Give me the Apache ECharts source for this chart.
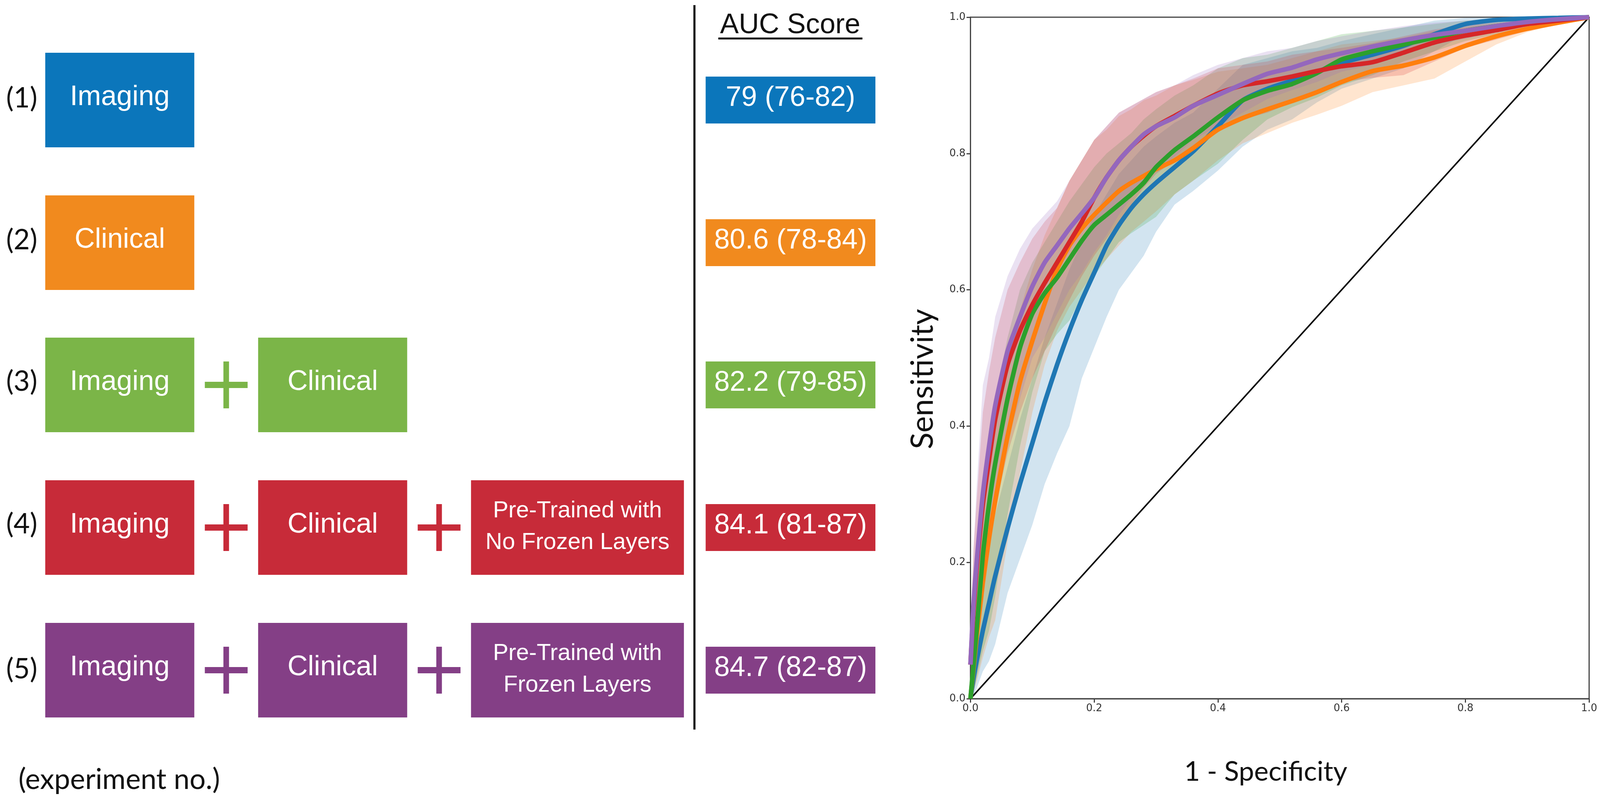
<!DOCTYPE html>
<html>
<head>
<meta charset="utf-8">
<title>AUC scores and ROC curves</title>
<style>
  html, body { margin: 0; padding: 0; background: #fff; }
  #chart { width: 100vw; height: 100vh; }
</style>
<script src="https://cdn.jsdelivr.net/npm/echarts@6/dist/echarts.min.js"></script>
</head>
<body>
<div id="chart"></div>
<script>
// 实验方案（左侧示意图）
const experimentNos = ['(1)', '(2)', '(3)', '(4)', '(5)']
const experimentBoxes = [
  ['Imaging'],
  ['Clinical'],
  ['Imaging', 'Clinical'],
  ['Imaging', 'Clinical', 'Pre-Trained with\nNo Frozen Layers'],
  ['Imaging', 'Clinical', 'Pre-Trained with\nFrozen Layers']
]
const aucLabels = ['79 (76-82)', '80.6 (78-84)', '82.2 (79-85)', '84.1 (81-87)', '84.7 (82-87)']

// ROC 曲线，五条线共用同一组横坐标
const fpr = [0, .005, .01, .02, .03, .04, .06, .08, .10, .12, .14, .16, .18, .20, .22, .24, .26, .28, .30, .33, .36, .40, .44, .48, .52, .56, .60, .65, .70, .75, .80, .85, .90, .95, 1]

const imagingMean = [0, .03, .055, .10, .14, .18, .25, .315, .375, .435, .49, .54, .585, .625, .665, .695, .72, .74, .757, .78, .803, .84, .878, .895, .907, .92, .933, .945, .958, .975, .99, .996, .998, .999, 1]
const imagingLow = [0, .005, .015, .04, .055, .08, .155, .205, .255, .315, .36, .40, .47, .515, .56, .60, .625, .65, .685, .725, .745, .775, .81, .835, .85, .875, .895, .91, .925, .95, .975, .985, .995, .998, 1]
const imagingHigh = [0, .06, .10, .17, .22, .27, .34, .41, .47, .53, .58, .63, .67, .71, .74, .77, .79, .81, .825, .845, .86, .895, .93, .94, .95, .955, .965, .975, .985, .995, .999, 1, 1, 1, 1]

const clinicalMean = [0, .045, .09, .17, .235, .29, .385, .465, .525, .58, .63, .665, .69, .71, .728, .745, .757, .767, .777, .79, .808, .835, .852, .865, .877, .89, .905, .921, .929, .941, .958, .972, .983, .992, 1]
const clinicalLow = [0, .01, .025, .06, .09, .115, .23, .33, .42, .49, .54, .575, .60, .625, .645, .665, .685, .70, .715, .74, .76, .79, .815, .83, .845, .857, .87, .89, .90, .91, .935, .96, .978, .99, 1]
const clinicalHigh = [0, .07, .15, .27, .33, .40, .49, .57, .63, .68, .72, .76, .79, .82, .835, .855, .865, .878, .885, .90, .908, .92, .925, .93, .94, .95, .96, .965, .97, .98, .985, .99, .995, .998, 1]

const comboMean = [0, .05, .10, .21, .285, .345, .44, .515, .565, .595, .618, .645, .672, .695, .71, .725, .74, .757, .78, .805, .825, .853, .878, .892, .902, .918, .938, .95, .96, .97, .98, .987, .992, .996, 1]
const comboLow = [0, .01, .03, .07, .10, .15, .27, .37, .45, .51, .535, .555, .59, .62, .645, .67, .683, .695, .707, .74, .76, .785, .82, .85, .868, .882, .90, .915, .935, .95, .965, .975, .985, .993, 1]
const comboHigh = [0, .10, .18, .30, .38, .44, .53, .60, .64, .67, .70, .73, .755, .78, .80, .815, .83, .85, .865, .885, .90, .925, .94, .945, .955, .965, .975, .98, .985, .99, .995, .997, .998, .999, 1]

const noFrozenMean = [.05, .13, .19, .285, .35, .41, .49, .54, .578, .61, .64, .67, .70, .735, .765, .79, .81, .826, .84, .855, .87, .888, .90, .906, .913, .921, .928, .934, .948, .963, .973, .981, .99, .995, 1]
const noFrozenLow = [0, .05, .10, .16, .22, .28, .36, .42, .47, .51, .55, .585, .62, .65, .675, .70, .725, .75, .77, .79, .81, .835, .85, .86, .875, .89, .905, .911, .915, .935, .955, .967, .98, .99, 1]
const noFrozenHigh = [.10, .22, .29, .42, .48, .53, .60, .64, .675, .70, .72, .76, .79, .82, .84, .86, .87, .88, .89, .90, .91, .925, .93, .935, .945, .95, .955, .962, .972, .982, .988, .992, .996, .998, 1]

const frozenMean = [.05, .14, .20, .30, .37, .43, .51, .56, .605, .64, .665, .69, .712, .735, .765, .79, .81, .828, .84, .853, .87, .886, .902, .917, .926, .938, .947, .957, .966, .974, .98, .987, .993, .997, 1]
const frozenLow = [0, .05, .11, .19, .25, .31, .38, .44, .50, .53, .565, .60, .625, .655, .68, .71, .735, .755, .775, .795, .82, .84, .86, .88, .893, .905, .92, .93, .945, .96, .968, .978, .987, .994, 1]
const frozenHigh = [.10, .22, .31, .46, .50, .56, .62, .66, .69, .71, .73, .76, .79, .82, .84, .86, .87, .88, .89, .90, .915, .93, .94, .95, .955, .965, .972, .98, .987, .992, .995, .997, .998, .999, 1]

const chanceLine = [[0, 0], [1, 1]]
const axisTicks = [0, 0.2, 0.4, 0.6, 0.8, 1]

const boxColors = ['#0b76bb', '#f18a1e', '#7bb548', '#c72b39', '#843f86']
const lineColors = ['#1f77b4', '#ff7f0e', '#2ca02c', '#d62728', '#9467bd']

const curves = [
  { name: 'Imaging', mean: imagingMean, low: imagingLow, high: imagingHigh },
  { name: 'Clinical', mean: clinicalMean, low: clinicalLow, high: clinicalHigh },
  { name: 'Imaging + Clinical', mean: comboMean, low: comboLow, high: comboHigh },
  { name: 'No Frozen Layers', mean: noFrozenMean, low: noFrozenLow, high: noFrozenHigh },
  { name: 'Frozen Layers', mean: frozenMean, low: frozenLow, high: frozenHigh }
]

const SANS = '"Liberation Sans", Arial, sans-serif'
const HAND = 'Lato, "Open Sans", sans-serif'

// 设计稿尺寸 4562x2037，按实际窗口换算
const chart = echarts.init(document.getElementById('chart'))
const sx = chart.getWidth() / 4562
const sy = chart.getHeight() / 2037

// 示意图版式（设计稿像素）
const rowTop = [135, 500, 864, 1229, 1594]
const boxHeight = 242
const boxLeft = [129, 736, 1343]
const boxWidth = [425, 425, 607]
const plusX = [645, 1252]
const aucLeft = 2012
const aucWidth = 484
const aucHeight = 120
const noLabelY = [252, 615, 977, 1342, 1713]

function rect(x, y, width, height, fill) {
  return { type: 'rect', silent: true, shape: { x: x * sx, y: y * sy, width: width * sx, height: height * sy }, style: { fill } }
}

function label(text, x, y, size, fill, family) {
  return {
    type: 'text',
    silent: true,
    style: {
      text,
      x: x * sx,
      y: y * sy,
      fill,
      font: size * sx + 'px ' + family,
      textAlign: 'center',
      textVerticalAlign: 'middle',
      lineHeight: 81 * sy
    }
  }
}

function buildDiagram() {
  const out = []
  experimentBoxes.forEach((boxes, row) => {
    const top = rowTop[row]
    const mid = top + boxHeight / 2
    const color = boxColors[row]
    out.push(label(experimentNos[row], 62, noLabelY[row], 80, '#111', HAND))
    boxes.forEach((text, i) => {
      out.push(rect(boxLeft[i], top, boxWidth[i], boxHeight, color))
      const small = text.indexOf('\n') >= 0
      out.push(label(text, boxLeft[i] + boxWidth[i] / 2, mid - (small ? 2 : 7), small ? 66 : 80, '#fff', SANS))
      if (i > 0) {
        out.push(rect(plusX[i - 1] - 61, mid - 8, 122, 16, color))
        out.push(rect(plusX[i - 1] - 8, mid - 60, 16, 120, color))
      }
    })
    out.push(rect(aucLeft, mid - aucHeight / 2, aucWidth, aucHeight, color))
    out.push(label(aucLabels[row], aucLeft + aucWidth / 2, mid - 5, 80, '#fff', SANS))
  })
  out.push(rect(1977, 13, 6, 1854, '#111'))
  out.push(label('AUC Score', 2253, 65, 80, '#111', SANS))
  out.push(rect(2048, 96, 411, 5, '#111'))
  out.push(label('(experiment no.)', 340, 1996, 81, '#111', HAND))
  return out
}

// 置信带：用坐标轴换算成多边形
function bandSeries(curve, color) {
  return {
    type: 'custom',
    name: curve.name + ' band',
    silent: true,
    data: [0],
    z: 2,
    renderItem(params, api) {
      const upper = fpr.map((x, i) => api.coord([x, curve.high[i]]))
      const lower = fpr.map((x, i) => api.coord([x, curve.low[i]])).reverse()
      return {
        type: 'polygon',
        shape: { points: upper.concat(lower) },
        style: { fill: color, opacity: 0.2 }
      }
    }
  }
}

function lineSeries(curve, color) {
  return {
    type: 'line',
    name: curve.name,
    data: fpr.map((x, i) => [x, curve.mean[i]]),
    smooth: 0.2,
    showSymbol: false,
    silent: true,
    z: 4,
    lineStyle: { color, width: 13 * sx }
  }
}

function valueAxis(name, nameGap, fontSize, shift) {
  return {
    type: 'value',
    min: 0,
    max: 1,
    interval: axisTicks[1],
    name,
    nameLocation: 'middle',
    nameGap,
    // 标题不在坐标轴正中，用右侧 padding 把文字推开
    nameTextStyle: { fontFamily: HAND, fontSize, color: '#111', padding: [0, shift, 0, 0] },
    splitLine: { show: false },
    axisLine: { show: true, lineStyle: { color: '#444', width: 3 } },
    axisTick: { show: true, length: 10, lineStyle: { color: '#444', width: 3 } },
    axisLabel: {
      fontFamily: '"DejaVu Sans"',
      fontSize: 29 * sx,
      color: '#333',
      margin: 14 * sx,
      formatter: v => v.toFixed(1)
    }
  }
}

chart.setOption({
  animation: false,
  backgroundColor: '#fff',
  grid: {
    show: true,
    left: 2767 * sx,
    top: 44 * sy,
    width: 1764 * sx,
    height: 1744 * sy,
    borderColor: '#444',
    borderWidth: 3,
    backgroundColor: 'transparent'
  },
  xAxis: valueAxis('1 - Specificity', 152 * sy, 78 * sx, 80 * sx),
  yAxis: valueAxis('Sensitivity', 92 * sx, 88 * sx, 108 * sy),
  graphic: buildDiagram(),
  series: [
    ...curves.map((c, i) => bandSeries(c, lineColors[i])),
    ...curves.map((c, i) => lineSeries(c, lineColors[i])),
    {
      type: 'line',
      name: 'chance',
      data: chanceLine,
      showSymbol: false,
      silent: true,
      z: 3,
      lineStyle: { color: '#000', width: 4.5 * sx }
    }
  ]
})
</script>
</body>
</html>
